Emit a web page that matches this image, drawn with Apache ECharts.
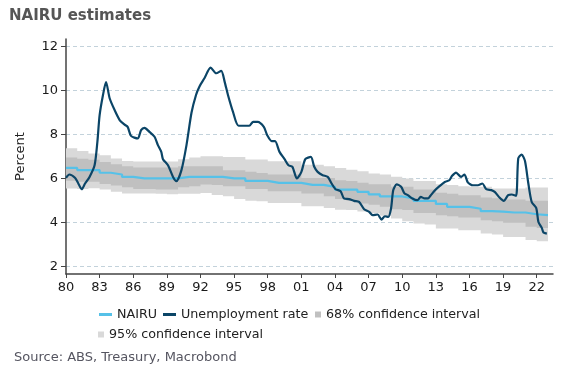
<!DOCTYPE html>
<html>
<head>
<meta charset="utf-8">
<script src="https://cdn.jsdelivr.net/npm/echarts@6/dist/echarts.min.js"></script>
<style>
html,body{margin:0;padding:0;background:#fff;}
#chart{width:567px;height:370px;}
</style>
</head>
<body>
<div id="chart"></div>
<script>
// Tick labels
var xTickYears = [1980,1983,1986,1989,1992,1995,1998,2001,2004,2007,2010,2013,2016,2019,2022];
var yTickValues = [2,4,6,8,10,12];

// Unemployment rate (time in decimal years, percent)
var unempT = [1980.0,1980.3,1980.8,1981.1,1981.4,1981.7,1982.1,1982.55,1982.8,1983.0,1983.3,1983.57,1983.9,1984.35,1984.8,1985.2,1985.5,1985.8,1986.4,1986.7,1987.0,1987.45,1987.9,1988.2,1988.5,1988.65,1989.1,1989.55,1989.85,1990.3,1990.75,1991.2,1991.6,1991.9,1992.35,1992.9,1993.4,1993.85,1994.15,1994.45,1994.9,1995.4,1996.35,1996.7,1997.1,1997.65,1997.95,1998.35,1998.65,1999.05,1999.5,1999.85,2000.2,2000.6,2001.0,2001.35,2001.85,2002.15,2002.45,2002.9,2003.35,2003.7,2004.05,2004.5,2004.8,2005.25,2005.7,2006.15,2006.6,2007.05,2007.35,2007.8,2008.15,2008.45,2008.75,2009.0,2009.2,2009.5,2009.9,2010.2,2010.5,2010.9,2011.35,2011.65,2012.0,2012.3,2012.5,2012.9,2013.35,2013.8,2014.2,2014.45,2014.8,2015.25,2015.55,2015.85,2016.3,2016.75,2017.15,2017.5,2017.95,2018.25,2018.7,2019.05,2019.45,2019.75,2020.15,2020.35,2020.65,2020.95,2021.25,2021.55,2021.95,2022.15,2022.45,2022.6,2022.9];
var unempV = [6.03,6.18,6.03,5.77,5.51,5.77,6.07,6.6,7.67,8.88,9.8,10.39,9.64,9.1,8.65,8.46,8.35,7.94,7.82,8.2,8.3,8.12,7.9,7.52,7.21,6.88,6.6,6.07,5.88,6.38,7.52,9.0,9.8,10.18,10.56,11.05,10.79,10.9,10.41,9.8,9.03,8.4,8.4,8.58,8.58,8.35,7.97,7.7,7.7,7.21,6.88,6.6,6.53,6.0,6.3,6.88,6.98,6.53,6.3,6.15,6.07,5.77,5.51,5.42,5.09,5.06,4.98,4.93,4.6,4.48,4.33,4.36,4.13,4.28,4.25,4.63,5.47,5.73,5.62,5.32,5.24,5.09,5.01,5.16,5.09,5.09,5.2,5.45,5.66,5.84,5.92,6.12,6.27,6.07,6.18,5.82,5.69,5.69,5.77,5.51,5.47,5.39,5.12,4.98,5.24,5.27,5.21,6.91,7.09,6.79,5.77,4.93,4.66,4.02,3.75,3.54,3.49];

// NAIRU estimate and confidence bands (annual steps)
var bandT = [1980,1981,1982,1983,1984,1985,1986,1987,1988,1989,1990,1991,1992,1993,1994,1995,1996,1997,1998,1999,2000,2001,2002,2003,2004,2005,2006,2007,2008,2009,2010,2011,2012,2013,2014,2015,2016,2017,2018,2019,2020,2021,2022,2023];
var nairuV = [6.48,6.38,6.38,6.26,6.18,6.07,6.00,6.00,6.00,6.00,6.07,6.07,6.07,6.07,6.00,6.00,5.89,5.89,5.80,5.80,5.80,5.71,5.71,5.62,5.49,5.49,5.39,5.28,5.18,5.18,5.09,4.98,4.98,4.84,4.71,4.71,4.62,4.51,4.49,4.45,4.45,4.37,4.33,4.33];
var upper95 = [7.37,7.25,7.14,7.06,6.91,6.80,6.77,6.77,6.77,6.77,6.88,6.95,7.01,7.01,6.98,6.98,6.86,6.86,6.78,6.78,6.78,6.63,6.63,6.56,6.48,6.40,6.33,6.23,6.18,6.08,6.00,5.89,5.89,5.74,5.70,5.65,5.62,5.62,5.54,5.54,5.54,5.59,5.59,5.59];
var upper68 = [6.96,6.90,6.85,6.75,6.65,6.56,6.50,6.50,6.50,6.50,6.56,6.56,6.56,6.56,6.37,6.37,6.30,6.25,6.18,6.18,6.18,6.02,6.02,6.02,5.92,5.88,5.80,5.74,5.74,5.62,5.62,5.50,5.50,5.35,5.30,5.24,5.24,5.13,5.10,5.04,5.04,4.98,4.98,4.98];
var lower68 = [5.90,5.85,5.85,5.75,5.68,5.60,5.52,5.52,5.50,5.50,5.60,5.65,5.72,5.70,5.64,5.64,5.52,5.52,5.42,5.42,5.42,5.31,5.31,5.19,5.07,4.98,4.86,4.80,4.71,4.60,4.56,4.43,4.43,4.33,4.28,4.22,4.22,4.10,4.05,3.98,3.98,3.80,3.75,3.75];
var lower95 = [5.54,5.52,5.55,5.50,5.39,5.32,5.32,5.32,5.30,5.28,5.30,5.30,5.34,5.25,5.19,5.07,4.98,4.96,4.88,4.88,4.88,4.73,4.73,4.66,4.58,4.56,4.50,4.42,4.30,4.18,4.05,3.95,3.90,3.72,3.72,3.64,3.64,3.49,3.45,3.34,3.34,3.20,3.14,3.14];

var C_UNEMP = '#0b4567', C_NAIRU = '#56c1e8', C_95 = '#d9d9d9', C_68 = '#c0c0c0';
var FONT = 'DejaVu Sans';

function pairs(t, v){ return t.map(function(x,i){ return [x, v[i]]; }); }

// step ("end") band polygon between lo and hi, through the axis scales
function bandRenderer(lo, hi, color){
  return function(params, api){
    var pts = [], i;
    for (i = 0; i < bandT.length - 1; i++) {
      pts.push(api.coord([bandT[i], hi[i]]));
      pts.push(api.coord([bandT[i+1], hi[i]]));
    }
    for (i = bandT.length - 2; i >= 0; i--) {
      pts.push(api.coord([bandT[i+1], lo[i]]));
      pts.push(api.coord([bandT[i], lo[i]]));
    }
    return {type:'polygon', shape:{points:pts}, style:{fill:color}, silent:true};
  };
}

var legendText = {fontFamily:FONT, fontSize:12.7, color:'#222'};
var chart = echarts.init(document.getElementById('chart'), null, {renderer:'canvas'});
chart.setOption({
  animation:false,
  title:{text:'NAIRU estimates', left:4, top:4, textStyle:{fontFamily:FONT, fontSize:15, fontWeight:'bold', color:'#555555'}},
  graphic:[{type:'text', left:14, top:351, style:{text:'Source: ABS, Treasury, Macrobond', font:'13px "DejaVu Sans"', fill:'#555560'}}],
  grid:{left:66, right:14, top:39, bottom:96, containLabel:false},
  legend:[
    {data:[{name:'NAIRU', itemStyle:{color:C_NAIRU}},{name:'Unemployment rate', itemStyle:{color:C_UNEMP}}], left:99, top:308, padding:0, icon:'rect', itemWidth:13, itemHeight:3, itemGap:6, textStyle:legendText},
    {data:[{name:'68% confidence interval', itemStyle:{color:C_68}}], left:315, top:308, padding:0, icon:'rect', itemWidth:6, itemHeight:6, textStyle:legendText},
    {data:[{name:'95% confidence interval', itemStyle:{color:C_95}}], left:98, top:328, padding:0, icon:'rect', itemWidth:6, itemHeight:6, textStyle:legendText}
  ],
  xAxis:{type:'value', min:1980, max:2023.45,
    axisLine:{show:true, onZero:false, lineStyle:{color:'#444', width:1.5}},
    axisTick:{show:true, length:4, customValues:xTickYears, lineStyle:{color:'#444'}},
    axisLabel:{customValues:xTickYears, fontFamily:FONT, fontSize:13, color:'#1a1a1a', margin:7,
      formatter:function(v){ var s=String(Math.round(v)%100); return s.length<2?'0'+s:s; }},
    splitLine:{show:false}},
  yAxis:{type:'value', min:1.65, max:12.35, name:'Percent', nameLocation:'middle', nameGap:39,
    nameTextStyle:{fontFamily:FONT, fontSize:13, color:'#222'},
    axisLine:{show:true, lineStyle:{color:'#444', width:1.5}},
    axisTick:{show:true, length:5, customValues:yTickValues, lineStyle:{color:'#444'}},
    axisLabel:{customValues:yTickValues, fontFamily:FONT, fontSize:13, color:'#1a1a1a', margin:8},
    splitLine:{show:true, lineStyle:{color:'#c3d2db', type:[4,3], width:1}}},
  series:[
    {name:'95% confidence interval', type:'custom', renderItem:bandRenderer(lower95, upper95, C_95), data:[[bandT[0], nairuV[0]]], itemStyle:{color:C_95}, clip:true, z:1},
    {name:'68% confidence interval', type:'custom', renderItem:bandRenderer(lower68, upper68, C_68), data:[[bandT[0], nairuV[0]]], itemStyle:{color:C_68}, clip:true, z:2},
    {name:'NAIRU', type:'line', step:'end', data:pairs(bandT, nairuV), showSymbol:false, symbol:'none', itemStyle:{color:C_NAIRU}, lineStyle:{color:C_NAIRU, width:2.2}, z:3},
    {name:'Unemployment rate', type:'line', data:pairs(unempT, unempV), showSymbol:false, symbol:'none', smooth:0.25, itemStyle:{color:C_UNEMP}, lineStyle:{color:C_UNEMP, width:2.2, join:'round'}, z:4}
  ]
});
</script>
</body>
</html>
